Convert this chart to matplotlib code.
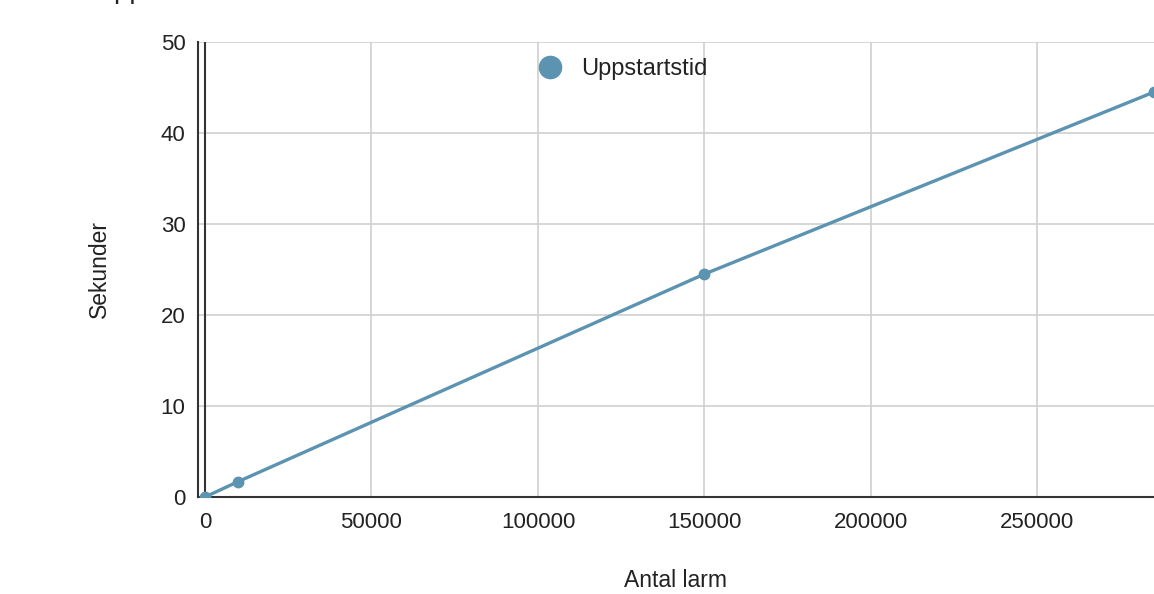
import matplotlib
matplotlib.use('Agg')
import matplotlib.pyplot as plt
import matplotlib.lines as mlines

plt.rcParams['font.family'] = ['Liberation Sans', 'DejaVu Sans']

# Data
antal_larm = [0, 10000, 150000, 285000]
sekunder = [0, 1.7, 24.5, 44.5]
x_ticks = [0, 50000, 100000, 150000, 200000, 250000]
y_ticks = [0, 10, 20, 30, 40, 50]

line_color = '#5b93b1'
text_color = '#222222'

fig = plt.figure(figsize=(11.54, 5.94), dpi=100)
ax = fig.add_axes([198 / 1154, 1 - 497 / 594, 1 - 198 / 1154, (497 - 42) / 594])

ax.plot(antal_larm, sekunder, color=line_color, linewidth=2.4,
        marker='o', markersize=7.5, zorder=3)

ax.set_xlim(-2100, 285000)
ax.set_ylim(0, 50)
ax.set_xticks(x_ticks)
ax.set_yticks(y_ticks)
ax.set_xticklabels([str(t) for t in x_ticks])
ax.grid(True, color='#d0d0d0', linewidth=1.2)
ax.set_axisbelow(True)
ax.tick_params(length=0, labelsize=16, colors=text_color)
ax.tick_params(axis='y', pad=9)
ax.tick_params(axis='x', pad=11)

# zero line at x = 0
ax.axvline(0, color='#333333', linewidth=1.5, zorder=2)

for side in ['top', 'right']:
    ax.spines[side].set_visible(False)
for side in ['left', 'bottom']:
    ax.spines[side].set_color('#333333')
    ax.spines[side].set_linewidth(1.5)

ax.set_xlabel('Antal larm', fontsize=16.5, color=text_color, labelpad=26)
ax.set_ylabel('Sekunder', fontsize=16.5, color=text_color, labelpad=36)

# Legend
handle = mlines.Line2D([], [], color=line_color, marker='o', linestyle='none', markersize=16)
ax.legend([handle], ['Uppstartstid'], loc='center', bbox_to_anchor=(0.443, 0.94),
          frameon=False, fontsize=17, handletextpad=0.7, handlelength=1.2,
          labelcolor=text_color)

# Title, mostly cut off at the top of the image
fig.text(0.082, 1 + 2 / 594, 'Uppstartstid', fontsize=20, color=text_color, va='baseline')

fig.savefig('out.png', dpi=100)
